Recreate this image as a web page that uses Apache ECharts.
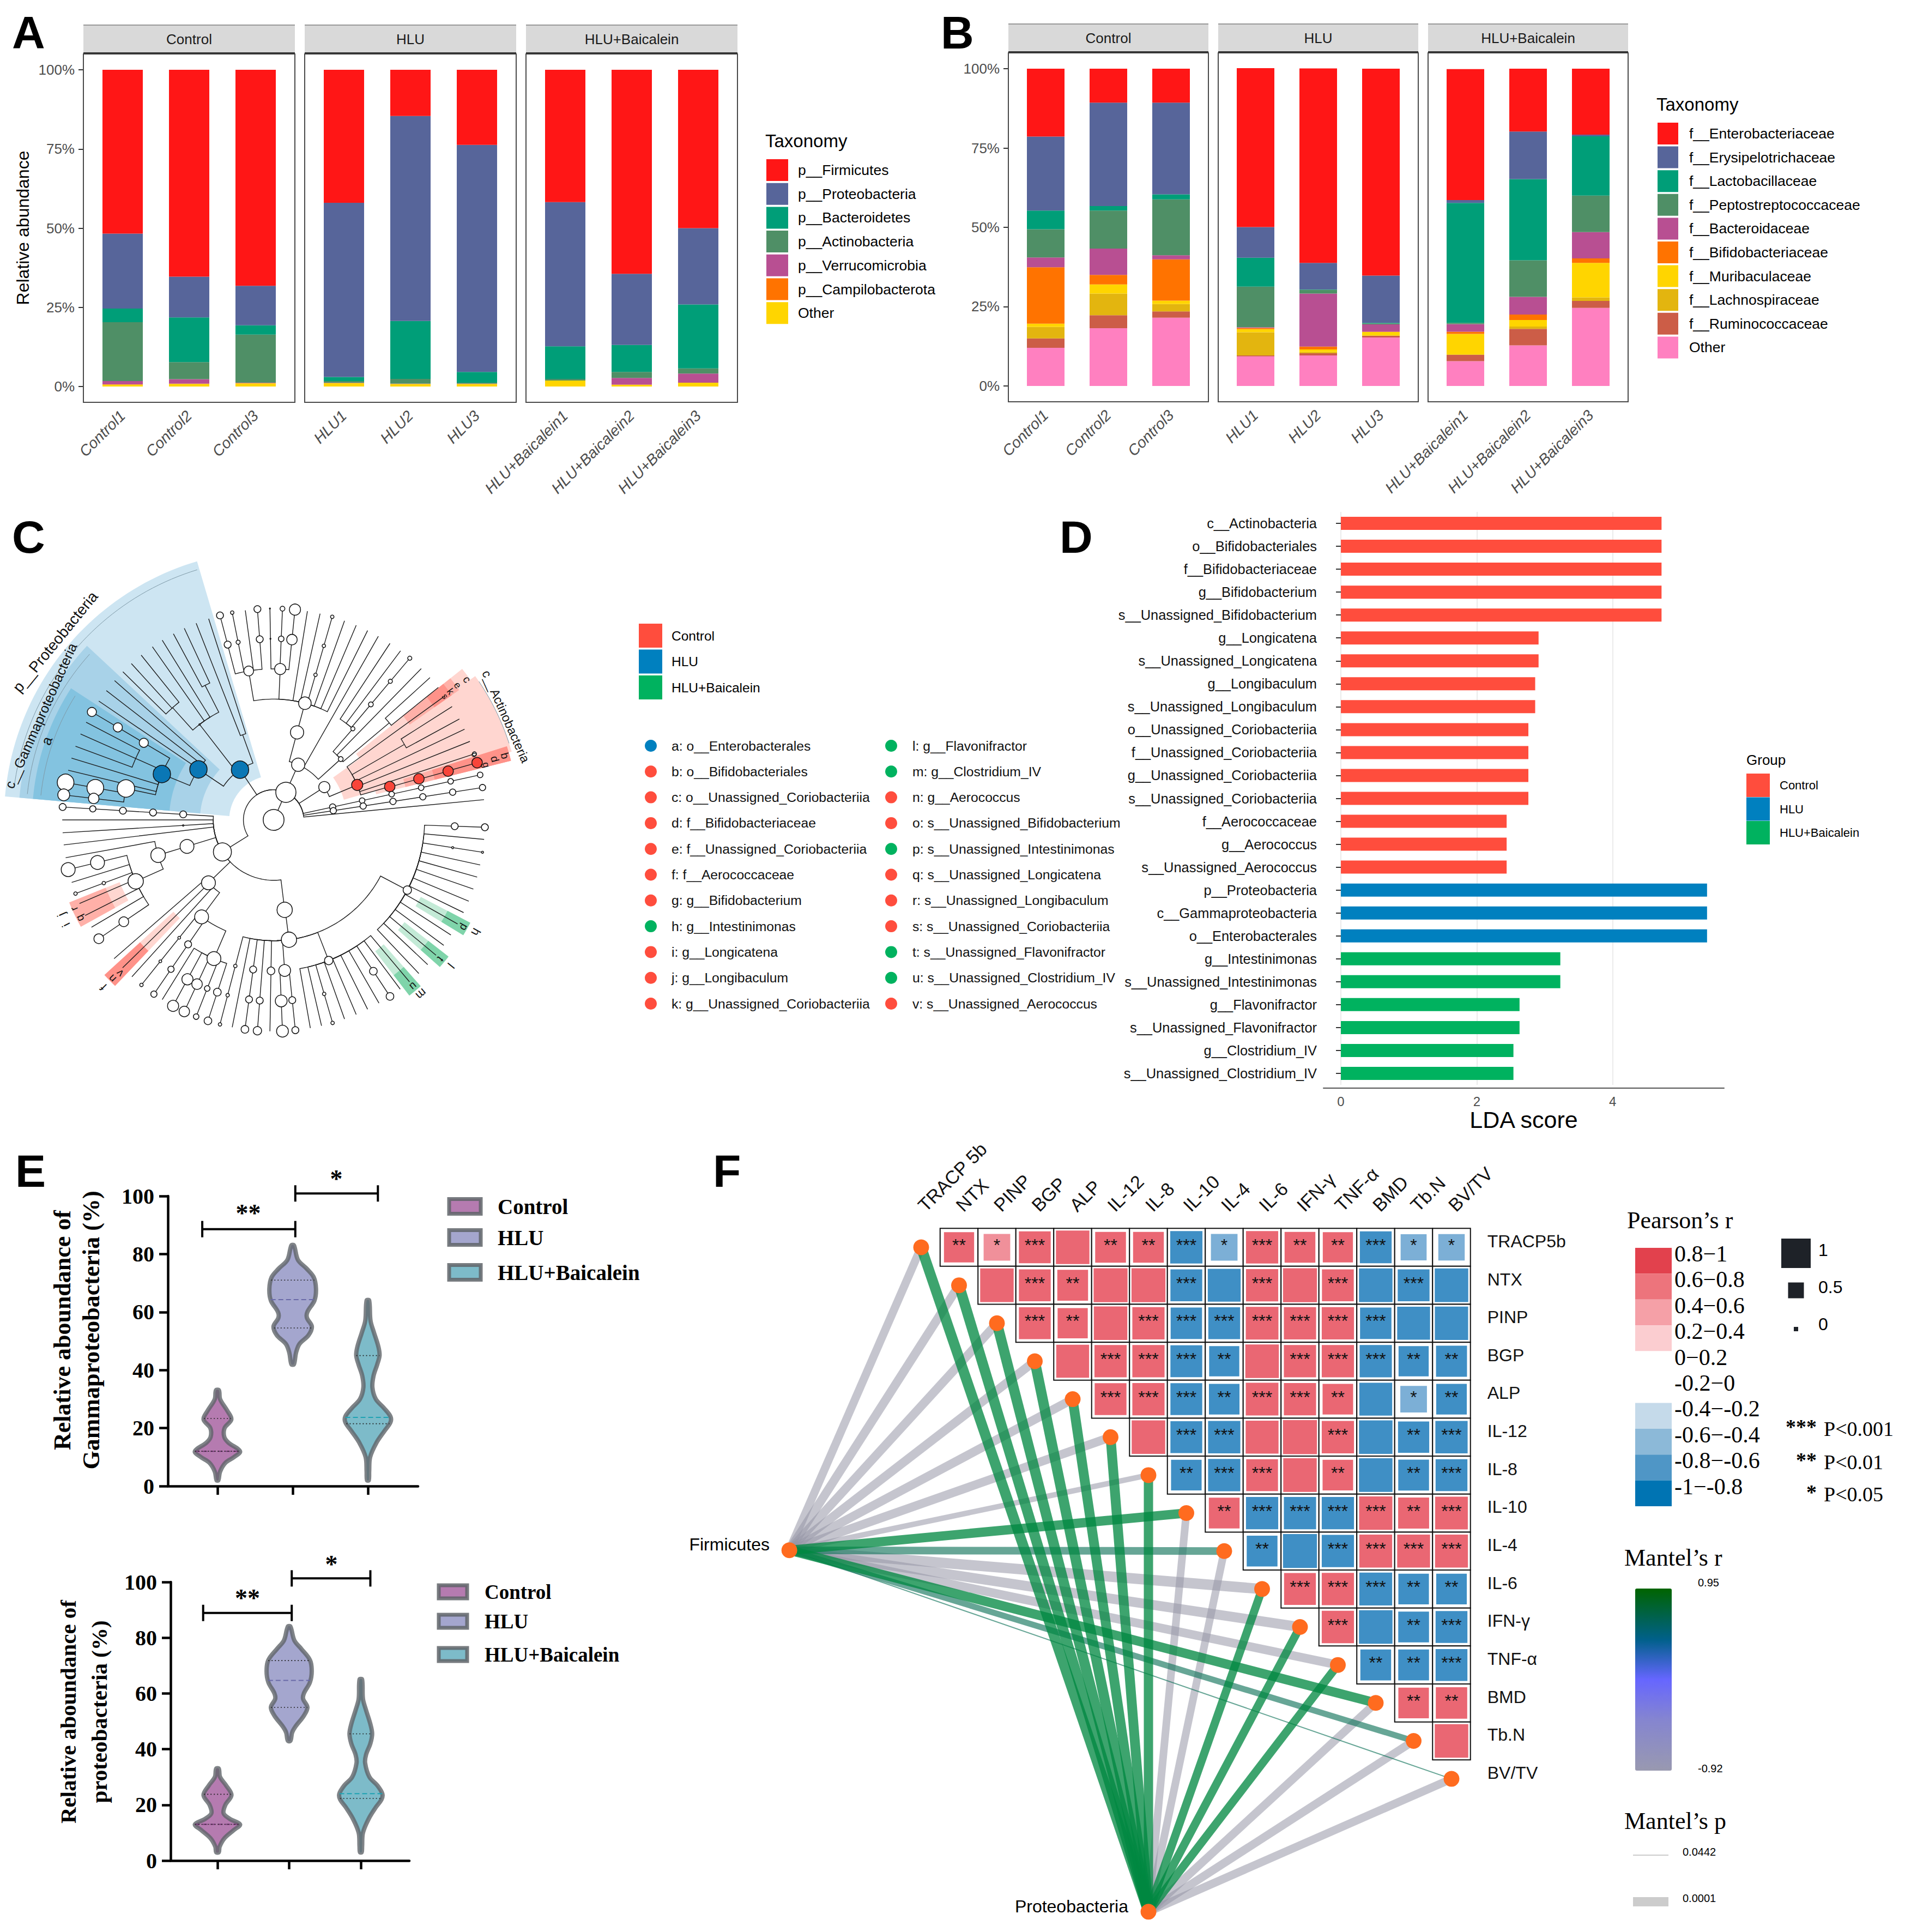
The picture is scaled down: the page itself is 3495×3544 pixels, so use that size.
<!doctype html>
<html><head><meta charset="utf-8">
<style>html,body{margin:0;background:#fff}#c{width:3495px;height:3544px}</style>
<script src="https://cdn.jsdelivr.net/npm/echarts@6/dist/echarts.min.js"></script>
</head><body><div id="c"></div>
<script>
const SANS='Liberation Sans', SERIF='Liberation Serif';
// ---------- Panel A / B data
const groupNames=['Control','HLU','HLU+Baicalein'];
const sampleNames=[['Control1','Control2','Control3'],['HLU1','HLU2','HLU3'],['HLU+Baicalein1','HLU+Baicalein2','HLU+Baicalein3']];
const phylumNames=['p__Firmicutes','p__Proteobacteria','p__Bacteroidetes','p__Actinobacteria','p__Verrucomicrobia','p__Campilobacterota','Other'];
const phylumColors=['#FF1616','#57659A','#009E78','#4F8F66','#B84F92','#FF7300','#FFD500'];
const pFirmicutes=[51.7,65.3,68.2,42,14.6,23.7,41.8,64.4,50];
const pProteobacteria=[23.7,12.9,12.5,55,64.7,71.7,45.5,22.5,24.1];
const pBacteroidetes=[4.3,14.1,2.9,1.3,18.3,3.4,10.3,8.5,20.2];
const pActinobacteria=[18.6,5.4,15.2,0.5,1.5,0.3,0.5,1.9,1.6];
const pVerrucomicrobia=[1.0,1.4,0.1,0.1,0.1,0.1,0,2.1,2.9];
const pCampilobacterota=[0.1,0.1,0.1,0,0,0,0,0.1,0];
const pOther=[0.6,0.8,1.0,1.1,0.8,0.8,1.9,0.5,1.2];
const phylumValues=[pFirmicutes,pProteobacteria,pBacteroidetes,pActinobacteria,pVerrucomicrobia,pCampilobacterota,pOther];

const familyNames=['f__Enterobacteriaceae','f__Erysipelotrichaceae','f__Lactobacillaceae','f__Peptostreptococcaceae','f__Bacteroidaceae','f__Bifidobacteriaceae','f__Muribaculaceae','f__Lachnospiraceae','f__Ruminococcaceae','Other'];
const familyColors=['#FF1616','#57659A','#009E78','#4F8F66','#B84F92','#FF7300','#FFD500','#E3B50F','#CC5D47','#FF80C0'];
const fEntero=[21.4,10.7,10.7,50.1,61.3,65.2,41.3,19.8,20.8];
const fErysi=[23.3,32.6,28.9,9.7,8.4,14.9,0.9,15,0.5];
const fLacto=[5.9,1.4,1.6,9.1,0.1,0.2,37.8,25.6,18.7];
const fPepto=[8.9,12,17.6,12.8,1.2,0.3,0.4,11.5,11.5];
const fBactero=[3.1,8.3,1.3,0.2,16.7,2.3,2.4,5.6,8.3];
const fBifido=[17.8,3,13,0.4,0.9,0.1,0.7,1.7,1.4];
const fMuri=[1,2.9,1.1,1,0.8,1.1,6.5,2.1,10.9];
const fLachno=[3.6,6.8,2.3,7.3,0.4,0.1,0.1,0.7,1.1];
const fRumino=[3,4.1,2,0.3,0.7,0.5,2,5.2,2.2];
const fOther=[12,18.2,21.5,9.3,9.6,15.3,7.8,12.8,24.6];
const familyValues=[fEntero,fErysi,fLacto,fPepto,fBactero,fBifido,fMuri,fLachno,fRumino,fOther];
const pctTicks=[0,25,50,75,100];

// ---------- Panel C data: cladogram (angle in degrees, level = taxonomic ring)
const cladeKindColors=['#FFFFFF','#0A77B5','#F8453A'];
const cladeNodes=[
['root',null,90,0,30,0],['k','root',66,1,29,0],
['pP','k',123.8,2,25,1],['pF','k',212,2,26,0],['pB','k',66,2,19,0],['pA','k',32.9,2,16,0],
['cG','pP',146.1,3,25,1],['oE','cG',157.7,4,25,1],['fE','oE',168,5,25,0],['fX','oE',156,5,0,0],
['cA','pP',110,3,0,0],['oB','pP',127.8,4,2,0],['fB','oB',117,5,0,0],['fC','oB',132,5,0,0],
['cB1','pB',75,3,19,0],['oB1','cB1',75,4,18,0],['gB1','oB1',87.5,5,16,0],['gB2','oB1',99.5,5,14,0],
['cB2','pB',42.2,3,7,0],['oB2','cB2',49,4,6,0],['fB3','cB2',40,5,0,0],
['cAc','pA',22.7,3,16,2],['oBi','cAc',16,4,15,2],['fBi','oBi',15.8,5,15,2],['gBi','fBi',15.6,6,15,2],['sBi','gBi',15.7,7,15,2],['fA2','cAc',30,5,0,0],
['cF1','pF',197,3,20,0],['oF1','cF1',197,4,21,0],['fF1','oF1',204,5,22,0],
['cF2','pF',224,3,20,0],['oF2','cF2',233.4,4,20,0],['fF2','oF2',246.7,5,20,0],
['cF3','pF',277,3,22,0],['oF3','cF3',277.3,4,22,0],['fF3','oF3',274.2,5,17,0],['fF4','oF3',291.4,5,12,0],['fF5','oF3',332.3,5,12,0]];
const cladeTips=[
['k',12.3,[2,9,3,8,4,8,5,8,6,8,7,8]],['k',8.8,[2,9,3,9,4,9,5,9,6,9,7,9]],['k',5.5,[]],
['fE',169.8,[6,24,7,24]],['fE',173.2,[6,15,7,17]],
['oE',149.3,[5,13,6,13,7,13]],['oE',163,[]],['oE',166.4,[]],
['fX',152.5,[]],['fX',156,[]],['fX',159.6,[]],
['cG',138.8,[]],['cG',142.3,[]],['cG',145.8,[]],
['cA',107.9,[]],['cA',111.5,[]],['fB',115,[]],['fB',118.3,[]],['oB',121.8,[]],['oB',125,[]],
['fC',128.8,[]],['fC',132.3,[]],['fC',135.5,[]],
['pB',60.3,[]],['oB1',63.6,[]],['oB1',67,[]],['oB1',70.4,[]],['oB1',73.9,[5,5,6,5,7,5]],['oB1',77.3,[]],['oB1',80.8,[]],
['gB1',84.2,[6,15,7,16]],['gB1',87.6,[6,8,7,7]],['gB1',91,[6,1.5,7,1.5]],
['gB2',94.4,[6,10,7,10]],['gB2',97.7,[]],['gB2',101.3,[6,6,7,5]],['gB2',104.7,[6,10,7,10]],
['oB2',49.9,[5,7,6,6,7,6]],['oB2',53.1,[]],['oB2',56.6,[]],['cB2',45.7,[]],['fB3',38.8,[]],['fB3',42.3,[]],
['cAc',18.2,[7,6]],['cAc',21.8,[]],['cAc',25.4,[]],['cAc',35.9,[]],['fA2',28.5,[]],['fA2',32.4,[]],
['pF',176.5,[3,10,4,10,5,10,6,9,7,10]],['pF',180,[]],['pF',183.5,[3,2]],['pF',186.8,[]],
['oF1',190.3,[]],['fF1',193.6,[6,20,7,20]],['fF1',197.2,[]],['fF1',200.4,[6,5,7,5]],['fF1',203.3,[]],['fF1',206.9,[]],['fF1',210.5,[]],['fF1',214.2,[6,14,7,14]],
['cF2',221,[]],['cF2',224.4,[]],['cF2',227.9,[]],
['oF2',231.3,[5,4,6,4,7,5]],['oF2',235.5,[5,10,6,9,7,9]],
['fF2',238.2,[]],['fF2',241.6,[6,16,7,16]],['fF2',245,[6,15,7,15]],['fF2',248.5,[6,8,7,8]],['fF2',251.9,[6,11,7,11]],
['oF3',255.3,[5,5,6,5,7,5]],['oF3',258.7,[]],['oF3',262.2,[5,10,6,10,7,11]],['oF3',265.6,[6,10,7,12]],['oF3',269,[5,11]],
['fF3',272.4,[6,17,7,17]],['fF3',275.9,[6,10,7,10]],
['fF4',280,[]],['fF4',283.1,[]],['fF4',286.2,[6,5,7,5]],['fF4',289.6,[]],['fF4',293,[]],['fF4',296.4,[]],['fF4',299.9,[]],['fF4',303.4,[6,11,7,11]],['fF4',306.8,[]],['fF4',310,[]],
['fF5',313.4,[]],['fF5',316.8,[]],['fF5',320.2,[]],['fF5',323.6,[]],['fF5',327,[]],['fF5',330.5,[]],['fF5',334,[]],['fF5',337.4,[]],['fF5',340.9,[]],['fF5',344.3,[]],['fF5',347.7,[]],['fF5',351.2,[6,3,7,3]],['fF5',354.7,[]],['fF5',358,[6,10,7,10]]];
const cladeBandColors=['#CDE5F2','#A8D2E8','#83C3E0','#FFD6D0','#FFB0A8','#FF9289','#C3EAD6','#7FD4AA'];
const cladeBands=[
[106.5,175,1.47,8.93,0],[137,175,2.44,8.45,1],[147,175,3.46,8.0,2],
[16,35.5,2.42,8.2,3],[35,38.7,3.5,8,3],[35,38.7,5.5,7.5,4],[35,38.7,6.5,7.2,5],
[14,17.5,3.5,8.1,3],[14,17.5,4.5,8.1,4],[14,17.5,5.5,8.1,5],
[202,209,5.5,7.3,3],[202,209,6,7.3,4],[222.5,226.3,4.5,7.6,3],[222.5,226.3,6,7.6,5],
[328.7,332.4,5.5,7.35,6],[328.7,332.4,6.5,7.35,7],[318.5,322,5.5,7.35,6],[318.5,322,6.5,7.35,7],[307.7,311.5,5.5,7.35,6],[307.7,311.5,6.5,7.35,7]];
const cladeRingArcs=[[107,173,8.66],[138,174,8.2],[148,174,7.75],[18,34,8.2]];
const cladeLetters=[['a',160.8,7.96,26],['b',15.5,7.95,20],['d',15.4,7.6,20],['g',14.5,7.27,18],['o',18,7,16],['c',36,7.92,20],['e',36.2,7.55,18],['k',36,7.24,18],['s',35.8,7,16],
['j',204,7.7,22],['r',204,7.24,20],['i',206.8,7.7,22],['q',206.9,7.2,20],['f',224.5,7.9,22],['n',224.5,7.5,20],['v',224.9,7.2,20],
['m',310.3,7.56,22],['u',310,7.2,20],['h',331,7.66,22],['p',330.6,7.25,20],['l',320.6,7.6,22],['t',320.2,7.2,20],
['p__Proteobacteria',140.8,9.33,28],['c__Gammaproteobacteria',155.9,8.45,25],['c__Actinobacteria',24,8.42,23]];
const cladeLegend1=[['a: o__Enterobacterales',1],['b: o__Bifidobacteriales',0],['c: o__Unassigned_Coriobacteriia',0],['d: f__Bifidobacteriaceae',0],['e: f__Unassigned_Coriobacteriia',0],['f: f__Aerococcaceae',0],['g: g__Bifidobacterium',0],['h: g__Intestinimonas',2],['i: g__Longicatena',0],['j: g__Longibaculum',0],['k: g__Unassigned_Coriobacteriia',0]];
const cladeLegend2=[['l: g__Flavonifractor',2],['m: g__Clostridium_IV',2],['n: g__Aerococcus',0],['o: s__Unassigned_Bifidobacterium',0],['p: s__Unassigned_Intestinimonas',2],['q: s__Unassigned_Longicatena',0],['r: s__Unassigned_Longibaculum',0],['s: s__Unassigned_Coriobacteriia',0],['t: s__Unassigned_Flavonifractor',2],['u: s__Unassigned_Clostridium_IV',2],['v: s__Unassigned_Aerococcus',0]];
const lefseColors=['#FF4D3D','#0080BF','#00B25F'];

// ---------- Panel D data
const ldaNames=['c__Actinobacteria','o__Bifidobacteriales','f__Bifidobacteriaceae','g__Bifidobacterium','s__Unassigned_Bifidobacterium','g__Longicatena','s__Unassigned_Longicatena','g__Longibaculum','s__Unassigned_Longibaculum','o__Unassigned_Coriobacteriia','f__Unassigned_Coriobacteriia','g__Unassigned_Coriobacteriia','s__Unassigned_Coriobacteriia','f__Aerococcaceae','g__Aerococcus','s__Unassigned_Aerococcus','p__Proteobacteria','c__Gammaproteobacteria','o__Enterobacterales','g__Intestinimonas','s__Unassigned_Intestinimonas','g__Flavonifractor','s__Unassigned_Flavonifractor','g__Clostridium_IV','s__Unassigned_Clostridium_IV'];
const ldaScores=[4.72,4.72,4.72,4.72,4.72,2.91,2.91,2.86,2.86,2.76,2.76,2.76,2.76,2.44,2.44,2.44,5.39,5.39,5.39,3.23,3.23,2.63,2.63,2.54,2.54];
const ldaGroups=[0,0,0,0,0,0,0,0,0,0,0,0,0,0,0,0,1,1,1,2,2,2,2,2,2];

// ---------- Panel E data: violin outlines [value, half width in axis units]
const violinFills=['#B57BB0','#A4A6CE','#7DBBC9'];
const violinMedianColors=['#7C3B7C','#6A6AA8','#1FA3B3'];
const gammaControl=[[33,.02],[30,.035],[26,.13],[23,.185],[20,.095],[17,.09],[15,.145],[12,.30],[10,.22],[8,.105],[5,.035],[2,.012]];
const gammaHLU=[[83,.017],[78,.07],[75,.185],[72,.28],[68,.31],[64,.29],[60,.195],[58,.19],[55,.255],[52,.21],[49,.09],[46,.045],[42,.017]];
const gammaBai=[[64,.017],[57,.035],[53,.08],[48,.14],[45,.155],[42,.125],[38,.075],[34,.06],[30,.105],[27,.21],[24,.30],[22,.30],[19,.22],[15,.115],[10,.03],[5,.017],[2,.012]];
const proteoControl=[[33,.018],[30,.036],[27,.12],[23.5,.195],[20,.11],[17,.085],[15,.17],[13,.315],[11,.23],[8,.097],[5,.03],[3,.018]];
const proteoHLU=[[84,.018],[79,.073],[76,.17],[72,.29],[68,.315],[64,.29],[60,.205],[58,.195],[55,.255],[52,.205],[48,.085],[46,.042],[43,.018]];
const proteoBai=[[65,.018],[58,.03],[54,.073],[49,.133],[45.5,.158],[42,.133],[38,.073],[35,.06],[30,.12],[27,.23],[24,.30],[22,.29],[19,.206],[15,.11],[10,.03],[5,.018],[3,.012]];
const gammaQuartiles=[[23.3,12,12],[71,64.3,54.5],[45,23.7,21.5]];
const proteoQuartiles=[[23.8,13,13],[71.8,64.7,55],[45.5,24,22.3]];
const gammaBrackets=[[.798,2.035,88.6,'**',1.41,94],[2.035,3.133,100.9,'*',2.58,106]];
const proteoBrackets=[[.8,2.036,88.9,'**',1.418,94.2],[2.036,3.133,101.3,'*',2.59,106.4]];

// ---------- Panel F data
const envNames=['TRACP 5b','NTX','PINP','BGP','ALP','IL-12','IL-8','IL-10','IL-4','IL-6','IFN-γ','TNF-α','BMD','Tb.N','BV/TV'];
const envRowNames=['TRACP5b','NTX','PINP','BGP','ALP','IL-12','IL-8','IL-10','IL-4','IL-6','IFN-γ','TNF-α','BMD','Tb.N','BV/TV'];
const corrR=[
[.72,.55,.8,.88,.75,.75,-.82,-.55,.82,.75,.72,-.8,-.52,-.54],
[.88,.8,.75,.9,.9,-.8,-.85,.82,.9,.8,-.88,-.8,-.88],
[.8,.72,.88,.82,-.78,-.8,.84,.82,.82,-.78,-.85,-.87],
[.85,.82,.82,-.8,-.72,.88,.82,.82,-.82,-.72,-.76],
[.8,.82,-.8,-.74,.84,.82,.74,-.85,-.55,-.74],
[.88,-.8,-.82,.85,.9,.82,-.88,-.77,-.82],
[-.74,-.82,.8,.88,.74,-.88,-.75,-.8],
[.75,-.82,-.82,-.82,.87,.76,.84],
[-.75,-.9,-.82,.85,.85,.85],
[.8,.82,-.85,-.74,-.74],
[.82,-.88,-.75,-.8],
[-.75,-.75,-.8],
[.74,.78],
[.88]];
const corrStars=[
[2,1,3,0,2,2,3,1,3,2,2,3,1,1],
[0,3,2,0,0,3,0,3,0,3,0,3,0],
[3,2,0,3,3,3,3,3,3,3,0,0],
[0,3,3,3,2,0,3,3,3,2,2],
[3,3,3,2,3,3,2,0,1,2],
[0,3,3,0,0,3,0,2,3],
[2,3,3,0,2,0,2,3],
[2,3,3,3,3,2,3],
[2,0,3,3,3,3],
[3,3,3,2,2],
[3,0,2,3],
[2,2,3],
[2,2],
[0]];
const firmicutesHub=[-3.48,7.98], proteobacteriaHub=[6,17.5];
const firmicutesMantelR=[-.9,-.9,-.9,-.9,-.9,-.9,-.9,.85,.6,-.9,-.9,-.9,.85,.6,.6];
const firmicutesMantelWidth=[15,16,16,16,16,16,10,17,14,19,18,16,17,11,2];
const proteobacteriaMantelR=[.9,.9,.9,.9,.9,.9,.9,-.9,-.9,.9,.9,.9,-.9,-.9,-.9];
const proteobacteriaMantelWidth=[19,19,19,19,18,18,17,14,14,15,15,15,15,15,15];
const pearsonLegend=[['0.8−1','#E2414D'],['0.6−0.8','#ED747C'],['0.4−0.6','#F5A0A7'],['0.2−0.4','#FBCDD0'],['0−0.2','#FFFFFF'],['-0.2−0','#FFFFFF'],['-0.4−-0.2','#C5DAEA'],['-0.6−-0.4','#8CB9D8'],['-0.8−-0.6','#4F96C6'],['-1−-0.8','#0074B3']];

// ---------- helpers
const gfx=[];
function txt(x,y,text,size,o){o=o||{};gfx.push({type:'text',x,y,rotation:o.rot||0,z:o.z||50,silent:true,style:{text,fontSize:size,fontFamily:o.family||SANS,fontWeight:o.weight||'normal',fontStyle:o.style||'normal',fill:o.color||'#000',align:o.align||'left',verticalAlign:'middle'}});}
function rect(x,y,w,h,fill,stroke,lw,z){gfx.push({type:'rect',x,y,z:z||0,silent:true,shape:{x:0,y:0,width:w,height:h},style:{fill:fill,stroke:stroke||null,lineWidth:lw||0}});}
const grid=[],xAxis=[],yAxis=[],series=[],legend=[];

function legendBlock(left,top,names,colors,w,h,gap,size,pad){
  legend.push({left,top,orient:'vertical',padding:0,icon:'rect',itemWidth:w,itemHeight:h,itemGap:gap,selectedMode:false,
    textStyle:{fontSize:size,fontFamily:SANS,color:'#000',padding:[0,0,0,pad]},
    data:names.map((n,i)=>({name:n,icon:'rect',itemStyle:{color:colors[i],borderWidth:0,opacity:1}}))});
}

function stackedFacets(panelLefts,panelW,top,h,pitch,names,colors,rows,barW){
  const inner=pitch*3, pad=(panelW-inner)/2;
  panelLefts.forEach((pl,f)=>{
    const gi=grid.length;
    grid.push({left:pl+pad,top:top,width:inner,height:h,containLabel:false});
    xAxis.push({gridIndex:gi,type:'category',data:sampleNames[f],position:'bottom',axisLine:{show:false},
      axisTick:{show:true,alignWithLabel:true,length:9,lineStyle:{color:'#333',width:2}},
      axisLabel:{rotate:45,interval:0,fontSize:28,fontStyle:'italic',fontFamily:SANS,color:'#4D4D4D',margin:20}});
    yAxis.push({gridIndex:gi,type:'value',min:-5,max:105,offset:pad,show:f===0,splitLine:{show:false},
      axisLine:{show:false},axisTick:{show:true,length:9,customValues:pctTicks,lineStyle:{color:'#333',width:2}},
      axisLabel:{customValues:pctTicks,formatter:v=>v+'%',fontSize:26,fontFamily:SANS,color:'#4D4D4D',margin:16}});
    for(let k=names.length-1;k>=0;k--){
      series.push({type:'bar',name:names[k],xAxisIndex:gi,yAxisIndex:gi,stack:'s'+gi,barWidth:barW,
        itemStyle:{color:colors[k]},data:rows[k].slice(f*3,f*3+3),animation:false,silent:true,z:3});
    }
    rect(pl,top,panelW,h,'#fff','#4a4a4a',2,1);
    const sTop=top-53;
    rect(pl,sTop,panelW,51,'#D9D9D9',null,0,1);
    rect(pl,sTop-1,panelW,2,'#999',null,0,2);
    rect(pl,top-3,panelW,3,'#333',null,0,2);
    txt(pl+panelW/2,sTop+26,groupNames[f],26,{align:'center',color:'#1a1a1a'});
  });
}
// Panel A
stackedFacets([153,559,965],388,99,639,122,phylumNames,phylumColors,phylumValues,74);
legendBlock(1406,292,phylumNames,phylumColors,40,40,3.7,26.5,13);
txt(1404,258,'Taxonomy',33);
txt(42,418,'Relative abundance',32,{rot:Math.PI/2,align:'center'});
// Panel B
stackedFacets([1850,2235,2620],367,97,640,115,familyNames,familyColors,familyValues,69);
legendBlock(3041,225,familyNames,familyColors,38,40,3.6,26.5,15);
txt(3039,191,'Taxonomy',33);

// Panel letters
[['A',22,60],['B',1726,60],['C',22,985],['D',1944,985],['E',28,2148],['F',1308,2148]].forEach(a=>txt(a[1],a[2],a[0],84,{weight:'bold'}));

// ---------- Panel C
const polar={center:[502,1504],radius:554};
const nodeById={};cladeNodes.forEach(n=>nodeById[n[0]]=n);
const cladeEdges=[],cladeDots=[];
cladeNodes.forEach(n=>{ if(n[1]){const p=nodeById[n[1]];cladeEdges.push([p[3],p[2],n[3],n[2]]);}
  if(n[4]>0) cladeDots.push([n[3],n[2],n[4],n[5]]);});
cladeTips.forEach(t=>{const p=nodeById[t[0]];cladeEdges.push([p[3],p[2],7,t[1]]);
  for(let i=0;i<t[2].length;i+=2) cladeDots.push([t[2][i],t[1],t[2][i+1],0]);});
function arcPts(api,lv,a0,a1){const pts=[];const n=Math.max(1,Math.ceil(Math.abs(a1-a0)/1.5));
  for(let i=0;i<=n;i++)pts.push(api.coord([lv,a0+(a1-a0)*i/n]));return pts;}
series.push({type:'custom',coordinateSystem:'polar',polarIndex:0,silent:true,animation:false,z:1,data:cladeBands,
  renderItem:(p,api)=>{const b=cladeBands[p.dataIndex];
    const pts=arcPts(api,b[3],b[0],b[1]).concat(arcPts(api,b[2],b[1],b[0]));
    return {type:'polygon',shape:{points:pts},style:{fill:cladeBandColors[b[4]],stroke:null}};}});
series.push({type:'custom',coordinateSystem:'polar',polarIndex:0,silent:true,animation:false,z:1.5,data:cladeRingArcs,
  renderItem:(p,api)=>{const b=cladeRingArcs[p.dataIndex];
    return {type:'polyline',shape:{points:arcPts(api,b[2],b[0],b[1])},style:{stroke:'#7f9aa8',lineWidth:1,fill:null}};}});
series.push({type:'custom',coordinateSystem:'polar',polarIndex:0,silent:true,animation:false,z:2,data:cladeEdges,
  renderItem:(p,api)=>{const e=cladeEdges[p.dataIndex];
    const pts=arcPts(api,e[0],e[1],e[3]);pts.push(api.coord([e[2],e[3]]));
    return {type:'polyline',shape:{points:pts},style:{stroke:'#1c1c1c',lineWidth:1.4,fill:null}};}});
series.push({type:'scatter',coordinateSystem:'polar',polarIndex:0,silent:true,animation:false,z:3,data:cladeDots.map(d=>({value:[d[0],d[1]],symbolSize:d[2]*1.276,itemStyle:{color:cladeKindColors[d[3]],borderColor:'#111',borderWidth:1.5,opacity:1}}))});
series.push({type:'custom',coordinateSystem:'polar',polarIndex:0,silent:true,animation:false,z:4,data:cladeLetters.map(l=>[l[2],l[1]]),
  renderItem:(p,api)=>{const l=cladeLetters[p.dataIndex];const c=api.coord([l[2],l[1]]);
    return {type:'text',x:c[0],y:c[1],rotation:(l[1]-90)*Math.PI/180,style:{text:l[0],fontSize:l[3],fontFamily:SANS,fill:'#111',align:'center',verticalAlign:'middle'}};}});
legendBlock(1172,1144,groupNames,lefseColors,43,44,3.5,24.5,12);
cladeLegend1.forEach((l,i)=>{const y=1368+i*47.3;gfx.push({type:'circle',x:1194,y,z:5,silent:true,shape:{r:11},style:{fill:lefseColors[l[1]]}});txt(1232,y,l[0],24.7,{color:'#111'});});
cladeLegend2.forEach((l,i)=>{const y=1368+i*47.3;gfx.push({type:'circle',x:1635,y,z:5,silent:true,shape:{r:11},style:{fill:lefseColors[l[1]]}});txt(1674,y,l[0],24.7,{color:'#111'});});

// ---------- Panel D
{
  const gi=grid.length;
  grid.push({left:2428,top:939,width:735,height:1051});
  xAxis.push({gridIndex:gi,type:'value',min:-.257,max:5.64,offset:6,
    axisLine:{show:true,lineStyle:{color:'#555',width:2}},axisTick:{show:false,customValues:[0,2,4]},
    axisLabel:{customValues:[0,2,4],fontSize:24,fontFamily:SANS,color:'#4D4D4D',margin:12},
    splitLine:{show:true,customValues:[0,2,4],lineStyle:{color:'#EBEBEB',width:2}},
    name:'LDA score',nameLocation:'middle',nameGap:36,nameTextStyle:{fontSize:43,fontFamily:SANS,color:'#000'}});
  yAxis.push({gridIndex:gi,type:'category',data:ldaNames,inverse:true,axisLine:{show:false},
    axisTick:{show:true,length:9,alignWithLabel:true,lineStyle:{color:'#333',width:2}},
    axisLabel:{interval:0,fontSize:25.4,fontFamily:SANS,color:'#111',margin:12},splitLine:{show:false}});
  groupNames.forEach((g,k)=>series.push({type:'bar',name:g,xAxisIndex:gi,yAxisIndex:gi,stack:'lda',barWidth:24,silent:true,animation:false,z:3,
    itemStyle:{color:lefseColors[k]},data:ldaScores.map((v,i)=>ldaGroups[i]===k?v:null)}));
  legendBlock(3204,1419,groupNames,lefseColors,43,43,.5,22,13);
  txt(3204,1394,'Group',26);
}

// ---------- Panel E
function violinPanel(left,top,w,h,xmin,xmax,profiles,quart,brackets){
  const gi=grid.length;
  grid.push({left,top,width:w,height:h});
  const lineStyle={color:'#000',width:4.5};
  xAxis.push({gridIndex:gi,type:'value',min:xmin,max:xmax,splitLine:{show:false},axisLine:{show:true,onZero:false,lineStyle},
    axisTick:{show:true,length:16,customValues:[1,2,3],lineStyle},axisLabel:{show:false,customValues:[1,2,3]}});
  yAxis.push({gridIndex:gi,type:'value',min:0,max:100,interval:20,splitLine:{show:false},axisLine:{show:true,onZero:false,lineStyle},
    axisTick:{show:true,length:16,lineStyle},axisLabel:{fontSize:40,fontWeight:'bold',fontFamily:SERIF,color:'#000',margin:25}});
  function widthAt(prof,v){for(let i=0;i<prof.length-1;i++){const a=prof[i],b=prof[i+1];if(v<=a[0]&&v>=b[0])return a[1]+(b[1]-a[1])*(a[0]-v)/(a[0]-b[0]);}return 0;}
  series.push({type:'custom',xAxisIndex:gi,yAxisIndex:gi,silent:true,animation:false,z:3,name:'violin',clip:false,
    data:profiles.map((p,i)=>[i+1]),
    renderItem:(p,api)=>{const i=p.dataIndex,prof=profiles[i],c=i+1;
      const pts=prof.map(q=>api.coord([c+q[1],q[0]])).concat(prof.slice().reverse().map(q=>api.coord([c-q[1],q[0]])));
      const kids=[{type:'polygon',shape:{points:pts,smooth:.35},style:{fill:violinFills[i],stroke:'rgba(95,100,105,.8)',lineWidth:8,lineJoin:'round'}}];
      quart[i].forEach((v,k)=>{const hw=widthAt(prof,v);const a=api.coord([c-hw,v]),b=api.coord([c+hw,v]);
        kids.push({type:'line',shape:{x1:a[0],y1:a[1],x2:b[0],y2:b[1]},style:{stroke:k===1?violinMedianColors[i]:'#222',lineWidth:k===1?2:1.6,lineDash:k===1?[9,5]:[2,4]}});});
      return {type:'group',children:kids};}});
  series.push({type:'custom',xAxisIndex:gi,yAxisIndex:gi,silent:true,animation:false,z:3,clip:false,data:brackets.map(b=>[b[0],b[2]]),
    renderItem:(p,api)=>{const b=brackets[p.dataIndex];const a=api.coord([b[0],b[2]]),e=api.coord([b[1],b[2]]),s=api.coord([b[4],b[5]]);
      const st={stroke:'#000',lineWidth:4};
      return {type:'group',children:[
        {type:'line',shape:{x1:a[0],y1:a[1],x2:e[0],y2:e[1]},style:st},
        {type:'line',shape:{x1:a[0],y1:a[1]-15,x2:a[0],y2:a[1]+15},style:st},
        {type:'line',shape:{x1:e[0],y1:e[1]-15,x2:e[0],y2:e[1]+15},style:st},
        {type:'text',x:s[0],y:s[1],style:{text:b[3],fontSize:46,fontWeight:'bold',fontFamily:SERIF,fill:'#000',align:'center',verticalAlign:'middle'}}]};}});
}
violinPanel(308,2194,459,532,.341,3.667,[gammaControl,gammaHLU,gammaBai],gammaQuartiles,gammaBrackets);
violinPanel(313,2902,438,511,.346,3.677,[proteoControl,proteoHLU,proteoBai],proteoQuartiles,proteoBrackets);
function violinLegend(x,ys,sw,sh,tx,size){groupNames.forEach((g,i)=>{
  rect(x,ys[i]-sh/2,sw,sh,violinFills[i],'rgba(95,100,105,.85)',7,5);
  txt(tx,ys[i],g,size,{family:SERIF,weight:'bold'});});}
violinLegend(824,[2213,2270,2334],58,27,913,39);
violinLegend(805,[2920,2974,3035],52,24,889,37);
txt(114,2440,'Relative aboundance of',44,{family:SERIF,weight:'bold',rot:Math.PI/2,align:'center'});
txt(167,2440,'Gammaproteobacteria (%)',44,{family:SERIF,weight:'bold',rot:Math.PI/2,align:'center'});
txt(125,3140,'Relative aboundance of',41,{family:SERIF,weight:'bold',rot:Math.PI/2,align:'center'});
txt(182,3140,'proteobacteria (%)',41,{family:SERIF,weight:'bold',rot:Math.PI/2,align:'center'});

// ---------- Panel F
{
  const gi=grid.length;
  grid.push({left:1412,top:2218.35,width:1285.75,height:1323.35});
  const idx=envNames.map((_,i)=>i);
  xAxis.push({gridIndex:gi,type:'value',position:'top',min:-4,max:14.5,splitLine:{show:false},axisLine:{show:false},axisTick:{show:false,customValues:idx},
    axisLabel:{customValues:idx,formatter:v=>envNames[Math.round(v)],rotate:45,fontSize:34,fontFamily:SANS,color:'#111',margin:2}});
  yAxis.push({gridIndex:gi,type:'value',position:'right',inverse:true,min:-1,max:18,splitLine:{show:false},axisLine:{show:false},axisTick:{show:false,customValues:idx},
    axisLabel:{customValues:idx.map(i=>i-.16),formatter:v=>envRowNames[Math.round(v)],fontSize:32,fontFamily:SANS,color:'#111',margin:31}});
  const cells=[];
  corrR.forEach((row,i)=>row.forEach((r,k)=>cells.push([i+1+k,i,r,corrStars[i][k]])));
  const cellColor=r=>r>=.6?'#EA6773':r>0?'#F0909A':r<=-.6?'#3F8FC5':'#7CAFD6';
  series.push({type:'custom',xAxisIndex:gi,yAxisIndex:gi,silent:true,animation:false,z:2,clip:false,data:cells,
    renderItem:(p,api)=>{const c=cells[p.dataIndex];const m=api.coord([c[0],c[1]]);const s=api.size([1,1]);
      const f=.4+.55*Math.abs(c[2]);const w=s[0]*f,h=s[1]*f;
      const kids=[{type:'rect',shape:{x:m[0]-s[0]/2,y:m[1]-s[1]/2,width:s[0],height:s[1]},style:{fill:'#fff',stroke:'#111',lineWidth:2}},
        {type:'rect',shape:{x:m[0]-w/2,y:m[1]-h/2,width:w,height:h},style:{fill:cellColor(c[2])}}];
      if(c[3]>0)kids.push({type:'text',x:m[0],y:m[1]-4,style:{text:'*'.repeat(c[3]),fontSize:32,fontFamily:SANS,fill:'#111',align:'center',verticalAlign:'middle'}});
      return {type:'group',children:kids};}});
  const linkColor=r=>r>=.8?'rgba(0,135,65,.76)':r>=.5?'rgba(25,120,95,.66)':'rgba(150,150,165,.55)';
  const links=[];
  firmicutesMantelR.forEach((r,i)=>links.push([firmicutesHub[0],firmicutesHub[1],i,i,firmicutesMantelWidth[i],r]));
  proteobacteriaMantelR.forEach((r,i)=>links.push([proteobacteriaHub[0],proteobacteriaHub[1],i,i,proteobacteriaMantelWidth[i],r]));
  links.sort((a,b)=>a[5]-b[5]);
  series.push({type:'custom',xAxisIndex:gi,yAxisIndex:gi,silent:true,animation:false,z:3,clip:false,data:links,
    renderItem:(p,api)=>{const l=links[p.dataIndex];const a=api.coord([l[0],l[1]]),b=api.coord([l[2],l[3]]);
      return {type:'line',shape:{x1:a[0],y1:a[1],x2:b[0],y2:b[1]},style:{stroke:linkColor(l[5]),lineWidth:l[4],lineCap:'butt'}};}});
  series.push({type:'scatter',xAxisIndex:gi,yAxisIndex:gi,silent:true,animation:false,z:4,symbolSize:29,itemStyle:{color:'#FF6B1F',opacity:1},clip:false,
    data:[firmicutesHub,proteobacteriaHub].concat(idx.map(i=>[i,i]))});
  txt(1412,2833,'Firmicutes',32,{align:'right'});
  txt(2070,3497,'Proteobacteria',32,{align:'right'});
  // legends
  txt(2985,2238,'Pearson’s r',44,{family:SERIF});
  pearsonLegend.forEach((p,i)=>{rect(3000,2289+i*47.4,67,47.4,p[1],null,0,5);txt(3072,2300+i*47.4,p[0],42,{family:SERIF});});
  [[54,2299,'1',2293],[29,2367,'0.5',2361],[8,2438,'0',2429]].forEach(s=>{rect(3295-s[0]/2,s[1]-s[0]/2,s[0],s[0],'#1E2228',null,0,5);txt(3336,s[3],s[2],32);});
  [['***','P<0.001',2621],['**','P<0.01',2682],['*','P<0.05',2741]].forEach(s=>{txt(3333,s[2]-4,s[0],38,{family:SERIF,weight:'bold',align:'right'});txt(3346,s[2],s[1],38,{family:SERIF});});
  txt(2980,2857,'Mantel’s r',44,{family:SERIF});
  gfx.push({type:'rect',x:3000,y:2914,z:5,silent:true,shape:{x:0,y:0,width:67,height:334,r:3},style:{fill:new echarts.graphic.LinearGradient(0,0,0,1,[{offset:0,color:'#006400'},{offset:.28,color:'#00608A'},{offset:.5,color:'#6666FF'},{offset:.72,color:'#8585D0'},{offset:1,color:'#9999B0'}])}});
  txt(3115,2903,'0.95',20);txt(3115,3244,'-0.92',20);
  txt(2980,3340,'Mantel’s p',44,{family:SERIF});
  rect(2996,3402,65,2,'#CCCCCC',null,0,5);txt(3087,3397,'0.0442',20);
  rect(2996,3480,65,17,'#CCCCCC',null,0,5);txt(3087,3482,'0.0001',20);
}

const option={animation:false,backgroundColor:'#fff',tooltip:{show:false},
  polar:[polar],
  angleAxis:[{polarIndex:0,type:'value',min:0,max:360,startAngle:0,clockwise:false,show:false}],
  radiusAxis:[{polarIndex:0,type:'value',min:0,max:10,show:false}],
  grid,xAxis,yAxis,series,legend,graphic:{elements:gfx}};
const chart=echarts.init(document.getElementById('c'),null,{renderer:'svg',width:3495,height:3544});
chart.setOption(option);
</script></body></html>
